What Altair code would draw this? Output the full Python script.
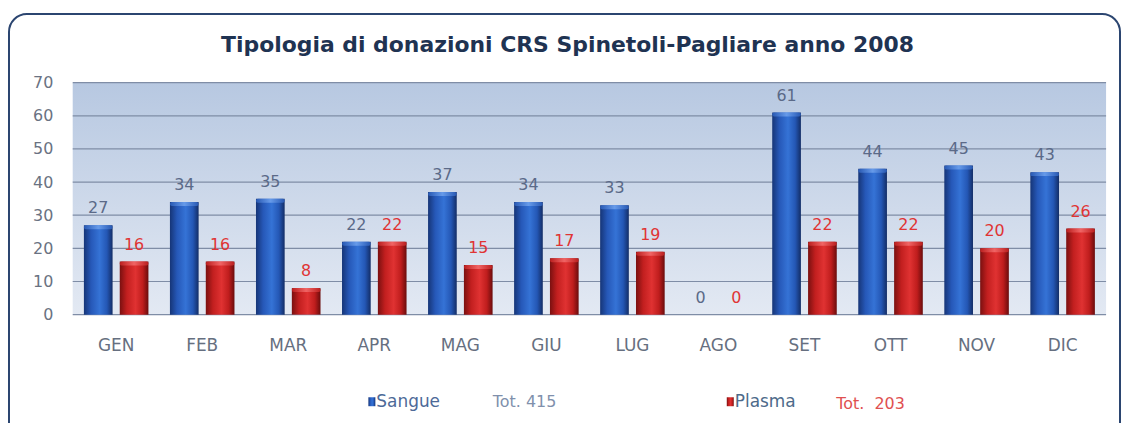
import altair as alt
import pandas as pd

months = ["GEN", "FEB", "MAR", "APR", "MAG", "GIU", "LUG", "AGO", "SET", "OTT", "NOV", "DIC"]
sangue = [27, 34, 35, 22, 37, 34, 33, 0, 61, 44, 45, 43]
plasma = [16, 16, 8, 22, 15, 17, 19, 0, 22, 22, 20, 26]
series = ["Sangue", "Plasma"]
y_ticks = [0, 10, 20, 30, 40, 50, 60, 70]
title_text = "Tipologia di donazioni CRS Spinetoli-Pagliare anno 2008"

W, H = 1038, 233
FONT = "DejaVu Sans"

rows = []
for m, s, p in zip(months, sangue, plasma):
    rows.append({"month": m, "series": "Sangue", "value": s})
    rows.append({"month": m, "series": "Plasma", "value": p})
df = pd.DataFrame(rows)
grid_df = pd.DataFrame({"value": y_ticks})
tot_s = sum(sangue)
tot_p = sum(plasma)

xenc = alt.X("month:N", sort=months,
             scale=alt.Scale(paddingInner=0.25, paddingOuter=0.13),
             axis=alt.Axis(labelAngle=0, ticks=False, domain=False, grid=False,
                           labelPadding=23, labelFontSize=17, labelFont=FONT,
                           labelColor="#666f80", title=None, zindex=1))
xoff = alt.XOffset("series:N", scale=alt.Scale(domain=series, paddingInner=0.2))
yscale = alt.Scale(domain=[0, 70], nice=False)
yaxis = alt.Axis(values=y_ticks, ticks=False, domain=False, grid=False,
                 labelPadding=20, labelFontSize=16, labelFont=FONT,
                 labelColor="#6a7282", title=None, zindex=1)
yenc = alt.Y("value:Q", scale=yscale, axis=yaxis)

one = alt.Data(values=[{"k": 1}])

frame = alt.Chart(one).mark_rect(fill="white", stroke="#2b4570", strokeWidth=2,
                                 cornerRadius=18).encode(
    x=alt.value(-64), x2=alt.value(W + 14), y=alt.value(-69), y2=alt.value(H + 140))

title = alt.Chart(one).mark_text(align="center", baseline="middle", fontSize=22,
                                 fontWeight="bold", font=FONT, color="#1f3352").encode(
    x=alt.value(497), y=alt.value(-38), text=alt.value(title_text))

bg = alt.Chart(one).mark_rect(
    fill=alt.Gradient(gradient="linear", x1=0, y1=0, x2=0, y2=1,
                      stops=[alt.GradientStop(offset=0, color="#b7c8e1"),
                             alt.GradientStop(offset=1, color="#e3e9f3")])
).encode(x=alt.value(0), x2=alt.value(W), y=alt.value(0), y2=alt.value(H))

grid = alt.Chart(grid_df).mark_rule(color="#7f8da6", strokeWidth=1.2).encode(y=yenc)

blue_grad = alt.Gradient(gradient="linear", x1=0, y1=0, x2=1, y2=0, stops=[
    alt.GradientStop(offset=0, color="#163577"),
    alt.GradientStop(offset=0.25, color="#2658b8"),
    alt.GradientStop(offset=0.55, color="#3573d6"),
    alt.GradientStop(offset=0.8, color="#2457b5"),
    alt.GradientStop(offset=1, color="#132d66")])
red_grad = alt.Gradient(gradient="linear", x1=0, y1=0, x2=1, y2=0, stops=[
    alt.GradientStop(offset=0, color="#7a1010"),
    alt.GradientStop(offset=0.25, color="#c21f1f"),
    alt.GradientStop(offset=0.55, color="#e03232"),
    alt.GradientStop(offset=0.8, color="#bf1d1d"),
    alt.GradientStop(offset=1, color="#6a0c0c")])
blue_cap = alt.Gradient(gradient="linear", x1=0, y1=0, x2=1, y2=0, stops=[
    alt.GradientStop(offset=0, color="#2a5cb8"),
    alt.GradientStop(offset=0.5, color="#6c9fec"),
    alt.GradientStop(offset=1, color="#2a5cb8")])
red_cap = alt.Gradient(gradient="linear", x1=0, y1=0, x2=1, y2=0, stops=[
    alt.GradientStop(offset=0, color="#c02020"),
    alt.GradientStop(offset=0.5, color="#f26a6a"),
    alt.GradientStop(offset=1, color="#c02020")])

base = alt.Chart(df)
bars_s = base.transform_filter(alt.datum.series == "Sangue").mark_bar(fill=blue_grad).encode(
    x=xenc, xOffset=xoff, y=yenc)
bars_p = base.transform_filter(alt.datum.series == "Plasma").mark_bar(fill=red_grad).encode(
    x=xenc, xOffset=xoff, y=yenc)

caps = base.transform_filter(alt.datum.value > 0).transform_calculate(
    cap="datum.value - 1.2")
cap_s = caps.transform_filter(alt.datum.series == "Sangue").mark_bar(
    fill=blue_cap, cornerRadius=4, opacity=0.9).encode(
    x=xenc, xOffset=xoff, y=yenc, y2="cap:Q")
cap_p = caps.transform_filter(alt.datum.series == "Plasma").mark_bar(
    fill=red_cap, cornerRadius=4, opacity=0.9).encode(
    x=xenc, xOffset=xoff, y=yenc, y2="cap:Q")

txt_s = base.transform_filter(alt.datum.series == "Sangue").mark_text(
    dy=-12, baseline="alphabetic", fontSize=16, font=FONT, color="#5b6a88").encode(
    x=xenc, xOffset=xoff, y=yenc, text="value:Q")
txt_p = base.transform_filter(alt.datum.series == "Plasma").mark_text(
    dy=-12, baseline="alphabetic", fontSize=16, font=FONT, color="#e03434").encode(
    x=xenc, xOffset=xoff, y=yenc, text="value:Q")

LY = H + 88
leg_sq_s = alt.Chart(one).mark_rect(fill=blue_grad).encode(
    x=alt.value(297), x2=alt.value(304), y=alt.value(LY - 5), y2=alt.value(LY + 4))
leg_sq_p = alt.Chart(one).mark_rect(fill=red_grad).encode(
    x=alt.value(657), x2=alt.value(664), y=alt.value(LY - 5), y2=alt.value(LY + 4))
leg_t_s = alt.Chart(one).mark_text(align="left", baseline="middle", fontSize=17, font=FONT,
                                   color="#4d6a98").encode(
    x=alt.value(305), y=alt.value(LY), text=alt.value("Sangue"))
leg_tot_s = alt.Chart(one).mark_text(align="left", baseline="middle", fontSize=16, font=FONT,
                                     color="#8090ac").encode(
    x=alt.value(422), y=alt.value(LY), text=alt.value(f"Tot. {tot_s}"))
leg_t_p = alt.Chart(one).mark_text(align="left", baseline="middle", fontSize=17, font=FONT,
                                   color="#4d6a8a").encode(
    x=alt.value(665), y=alt.value(LY), text=alt.value("Plasma"))
leg_tot_p = alt.Chart(one).mark_text(align="left", baseline="middle", fontSize=16, font=FONT,
                                     color="#e05050").encode(
    x=alt.value(767), y=alt.value(LY + 2), text=alt.value(f"Tot.\u00a0\u00a0{tot_p}"))

chart = alt.layer(
    frame, title, bg, grid, bars_s, bars_p, cap_s, cap_p, txt_s, txt_p,
    leg_sq_s, leg_sq_p, leg_t_s, leg_tot_s, leg_t_p, leg_tot_p
).properties(
    width=W, height=H,
    padding={"top": 4, "left": 0, "right": 0, "bottom": 0},
).configure_view(stroke=None).configure(background="white")

chart.save("out.html", embed_options={"renderer": "svg", "actions": False})
